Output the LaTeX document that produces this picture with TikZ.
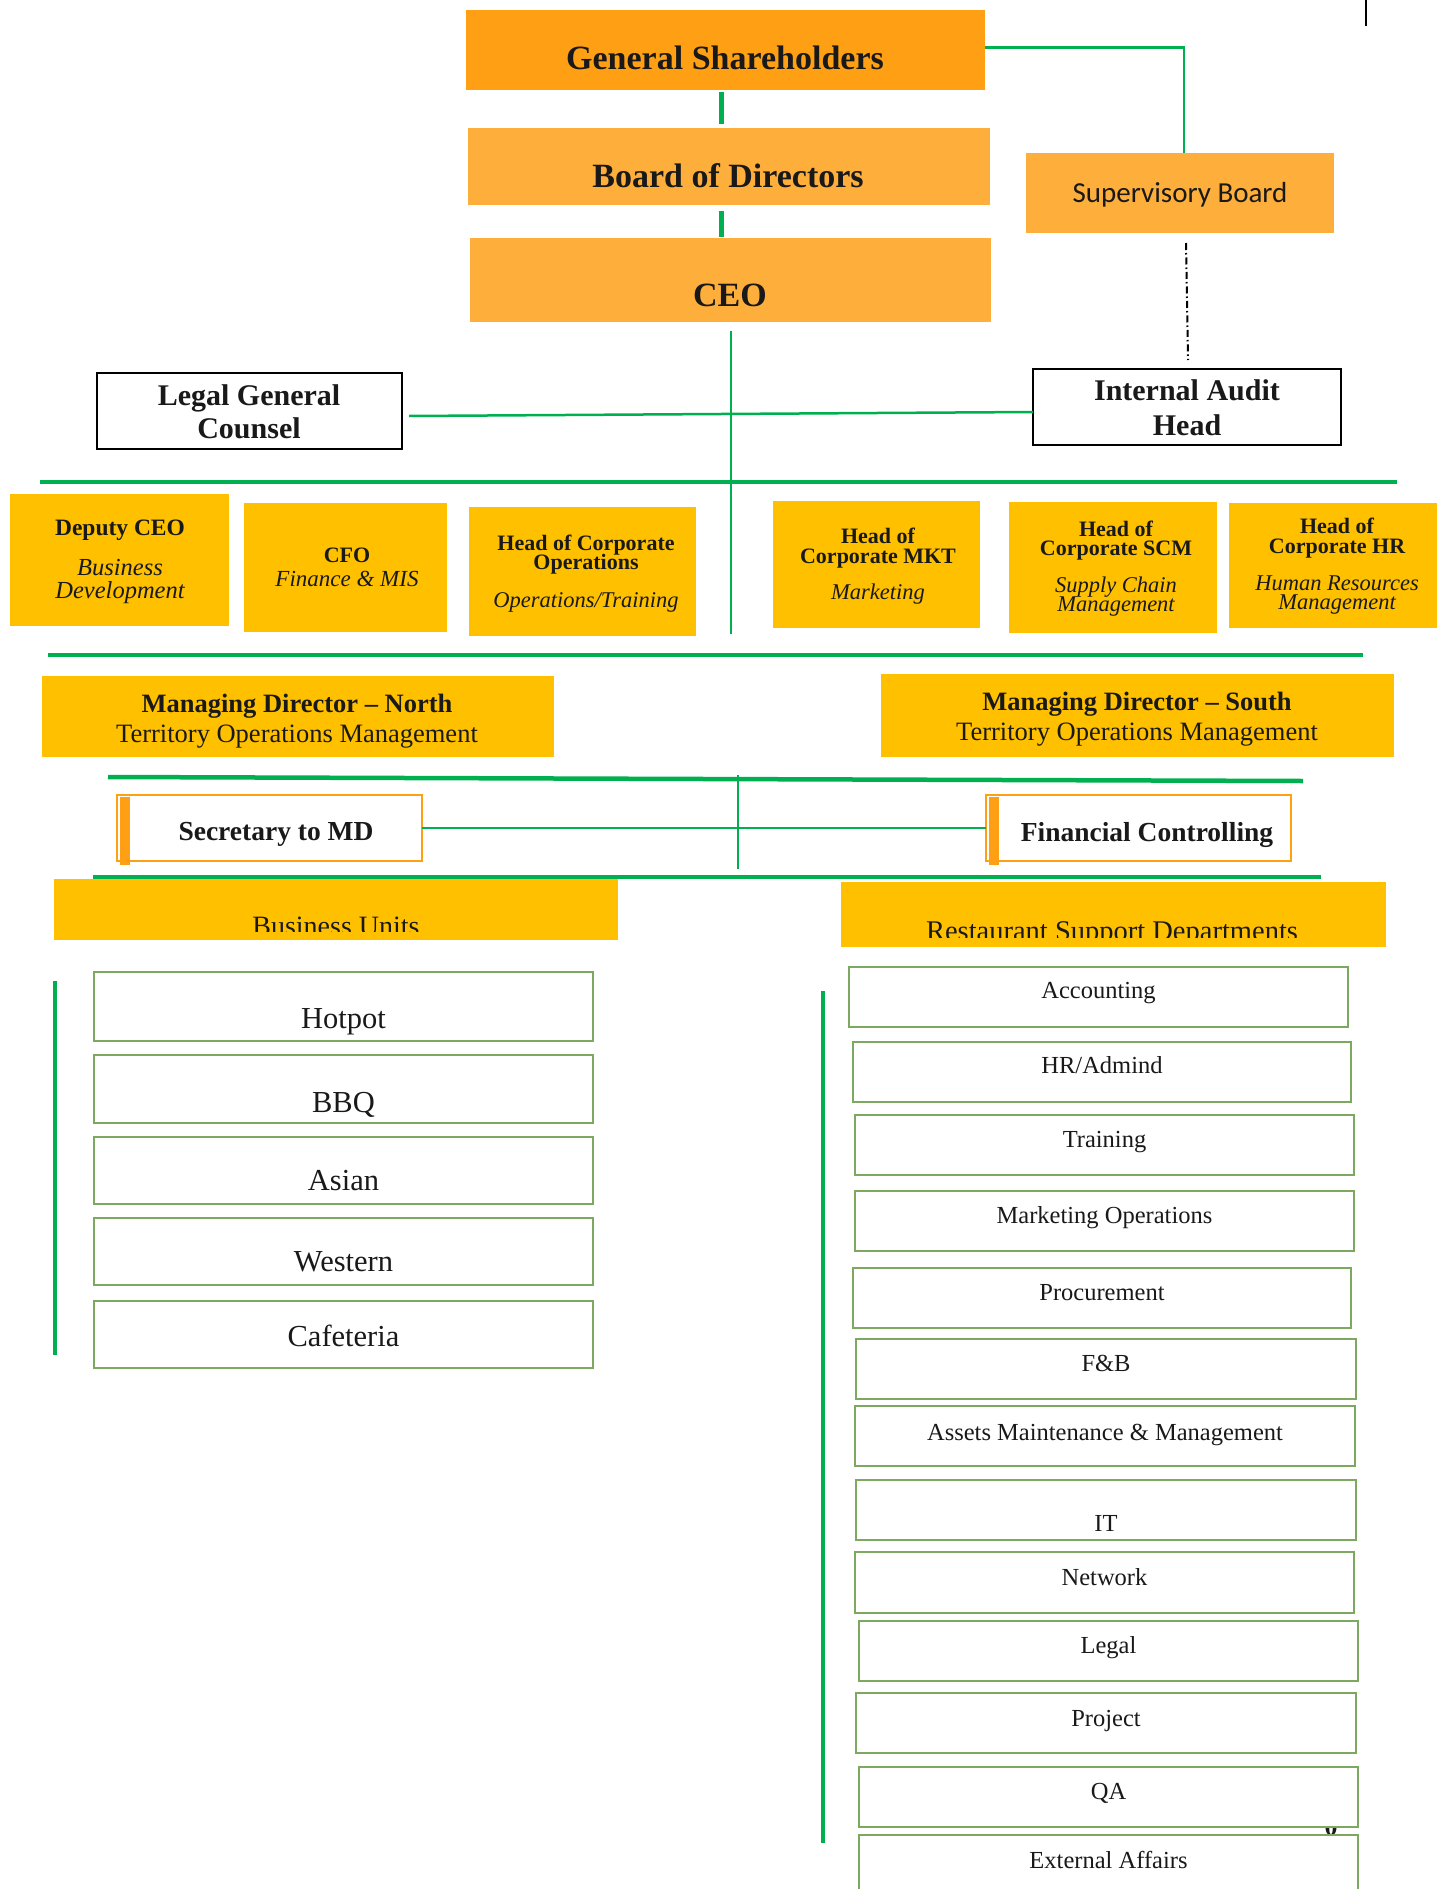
\documentclass[tikz,border=0pt]{standalone}
\usepackage{fontspec}
\setmainfont{Liberation Serif}
\newfontfamily\calibrifont{Carlito}
\usetikzlibrary{fit}
\definecolor{gsorange}{RGB}{255,160,20}
\definecolor{lightorange}{RGB}{253,174,59}
\definecolor{boxyellow}{RGB}{255,192,0}
\definecolor{linegreen}{RGB}{0,176,80}
\definecolor{boxgreen}{RGB}{125,168,95}
\definecolor{secorange}{RGB}{255,160,20}
\definecolor{ink}{RGB}{25,25,25}
\begin{document}
\begin{tikzpicture}[x=1pt,y=-1pt,
  rect/.style={inner sep=0pt, outer sep=0pt},
  darkbox/.style={rect, fill=gsorange},
  lightbox/.style={rect, fill=lightorange},
  yelbox/.style={rect, fill=boxyellow},
  blackbox/.style={rect, draw=black, line width=2.5pt, fill=white},
  secbox/.style={rect, draw=secorange, line width=2pt, fill=white},
  unitbox/.style={rect, draw=boxgreen, line width=1.6pt, fill=white},
  t/.style={inner sep=0pt, outer sep=0pt, anchor=base, text=ink},
  topfont/.style={font=\bfseries\fontsize{34}{40}\selectfont},
  headfont/.style={font=\bfseries\fontsize{30}{34}\selectfont},
  rowb/.style={font=\bfseries\fontsize{22}{24}\selectfont},
  rowi/.style={font=\itshape\fontsize{22.5}{24}\selectfont},
  mdb/.style={font=\bfseries\fontsize{26.5}{30}\selectfont},
  mdr/.style={font=\fontsize{26.5}{30}\selectfont},
  secfont/.style={font=\bfseries\fontsize{27.5}{30}\selectfont},
  unitfont/.style={font=\fontsize{30.5}{32}\selectfont},
  deptfont/.style={font=\fontsize{24.5}{26}\selectfont},
  gthick/.style={draw=linegreen, line width=4.5pt},
  gline/.style={draw=linegreen, line width=2.5pt},
  gvert/.style={draw=linegreen, line width=3.5pt},
  dashdotline/.style={draw=black, line width=2pt, dash pattern=on 7pt off 3pt on 1.5pt off 3pt}
]
\useasboundingbox (0,0) rectangle (1444,1889);

% stray mark top right
\draw[black, line width=2pt] (1366,0) -- (1366,26);

% ---------- top boxes ----------
\node[darkbox, fit={(466,10) (985,90)}] (gs) {};
\node[t, topfont] (gs-t) at (725,70) {General Shareholders};
\node[lightbox, fit={(468,128) (990,205)}] (bod) {};
\node[t, topfont] (bod-t) at (728,188) {Board of Directors};
\node[lightbox, fit={(470,238) (991,322)}] (ceo) {};
\node[t, topfont] (ceo-t) at (730,306) {CEO};
\node[lightbox, fit={(1026,153) (1334,233)}] (sb) {};
\node[t, font=\calibrifont\fontsize{29}{32}\selectfont] (sb-t) at (1180,203) {Supervisory Board};

% connectors top
\draw[draw=linegreen, line width=5pt] ([shift={(-4.5,2)}]gs.south) -- ([shift={(-8,-4)}]bod.north);
\draw[draw=linegreen, line width=5pt] ([shift={(-8,6)}]bod.south) -- ([shift={(-9.5,-1)}]ceo.north);
\coordinate (gsCorner) at (1184,48);
\draw[draw=linegreen, line width=3pt] ([shift={(0,-2)}]gs.east) -- ([xshift=1pt]gsCorner);
\draw[draw=linegreen, line width=2pt] (gsCorner) -- ([xshift=4pt]sb.north);

% CEO down line
\coordinate (ceoEnd) at (731,634);
\draw[gline] ([shift={(0.5,9)}]ceo.south) -- (ceoEnd);

% ---------- legal / internal audit ----------
\node[blackbox, fit={(97,373) (402,449)}] (legal) {};
\node[t, headfont] (legal-t1) at (249,405) {Legal General};
\node[t, headfont] (legal-t2) at (249,438) {Counsel};
\node[blackbox, fit={(1033,369) (1341,445)}] (ia) {};
\node[t, headfont] (ia-t1) at (1187,400) {Internal Audit};
\node[t, headfont] (ia-t2) at (1187,435) {Head};
\draw[gline] ([shift={(7,5)}]legal.east) -- ([shift={(0,5)}]ia.west);

\draw[dashdotline] ([shift={(6,10)}]sb.south) -- ([shift={(1,-9)}]ia.north);

% thick bar 1
\coordinate (bar1L) at (40,482);
\coordinate (bar1R) at (1397,482);
\draw[gthick] (bar1L) -- (bar1R);

% ---------- row of heads ----------
\node[yelbox, fit={(10,494) (229,626)}] (dep) {};
\node[t, font=\bfseries\fontsize{23.5}{26}\selectfont] (dep-t1) at (120,535) {Deputy CEO};
\node[t, font=\itshape\fontsize{24.5}{26}\selectfont] (dep-t2) at (120,575) {Business};
\node[t, font=\itshape\fontsize{24.5}{26}\selectfont] (dep-t3) at (120,598) {Development};

\node[yelbox, fit={(244,503) (447,632)}] (cfo) {};
\node[t, rowb] (cfo-t1) at (347,562) {CFO};
\node[t, font=\itshape\fontsize{23}{26}\selectfont] (cfo-t2) at (347,586) {Finance \& MIS};

\node[yelbox, fit={(469,507) (696,636)}] (ops) {};
\node[t, rowb] (ops-t1) at (586,550) {Head of Corporate};
\node[t, rowb] (ops-t2) at (586,569) {Operations};
\node[t, rowi] (ops-t3) at (586,607) {Operations/Training};

\node[yelbox, fit={(773,501) (980,628)}] (mkth) {};
\node[t, rowb] (mkth-t1) at (878,543) {Head of};
\node[t, rowb] (mkth-t2) at (878,563) {Corporate MKT};
\node[t, rowi] (mkth-t3) at (878,599) {Marketing};

\node[yelbox, fit={(1009,502) (1217,633)}] (scm) {};
\node[t, rowb] (scm-t1) at (1116,536) {Head of};
\node[t, rowb] (scm-t2) at (1116,555) {Corporate SCM};
\node[t, rowi] (scm-t3) at (1116,592) {Supply Chain};
\node[t, rowi] (scm-t4) at (1116,611) {Management};

\node[yelbox, fit={(1229,503) (1437,628)}] (hrh) {};
\node[t, rowb] (hrh-t1) at (1337,533) {Head of};
\node[t, rowb] (hrh-t2) at (1337,553) {Corporate HR};
\node[t, rowi] (hrh-t3) at (1337,590) {Human Resources};
\node[t, rowi] (hrh-t4) at (1337,609) {Management};

% thick bar 2
\coordinate (bar2L) at (48,655);
\coordinate (bar2R) at (1363,655);
\draw[gthick] (bar2L) -- (bar2R);

% ---------- managing directors ----------
\node[yelbox, fit={(42,676) (554,757)}] (mdn) {};
\node[t, mdb] (mdn-t1) at (297,712) {Managing Director -- North};
\node[t, mdr] (mdn-t2) at (297,742) {Territory Operations Management};
\node[yelbox, fit={(881,674) (1394,757)}] (mds) {};
\node[t, mdb] (mds-t1) at (1137,710) {Managing Director -- South};
\node[t, mdr] (mds-t2) at (1137,740) {Territory Operations Management};

\coordinate (bar3L) at (108,777);
\coordinate (bar3R) at (1303,781);
\draw[gthick] (bar3L) -- (bar3R);
\coordinate (vmidT) at (738,775);
\coordinate (vmidB) at (738,869);
\draw[gline] (vmidT) -- (vmidB);

% ---------- secretary / financial controlling ----------
\node[secbox, fit={(117,795) (422,861)}] (sec) {};
\fill[secorange] (120,797) rectangle (130,865);
\node[t, secfont] (sec-t) at (276,840) {Secretary to MD};
\node[secbox, fit={(986,795) (1291,861)}] (fc) {};
\fill[secorange] (989,797) rectangle (999,865);
\node[t, secfont] (fc-t) at (1147,841) {Financial Controlling};
\draw[gline] (sec.east) -- (fc.west);

\coordinate (bar4L) at (93,877);
\coordinate (bar4R) at (1321,877);
\draw[gthick] (bar4L) -- (bar4R);

% ---------- group headers (text clipped) ----------
\node[yelbox, fit={(54,879) (618,940)}] (bu) {};
\begin{scope}
  \clip (54,879) rectangle (618,931);
  \node[t, font=\fontsize{28}{30}\selectfont] (bu-t) at (336,935.5) {Business Units};
\end{scope}
\node[yelbox, fit={(841,882) (1386,947)}] (rsd) {};
\begin{scope}
  \clip (841,882) rectangle (1386,937);
  \node[t, font=\fontsize{28.5}{30}\selectfont] (rsd-t) at (1112,940) {Restaurant Support Departments};
\end{scope}

% ---------- business units ----------
\coordinate (buLineT) at (55,981);
\coordinate (buLineB) at (55,1355);
\draw[gvert] (buLineT) -- (buLineB);

\node[unitbox, fit={(94,972) (593,1041)}] (hot) {};
\node[t, unitfont] (hot-t) at (343.5,1028) {Hotpot};
\node[unitbox, fit={(94,1055) (593,1123)}] (bbq) {};
\node[t, unitfont] (bbq-t) at (343.5,1112) {BBQ};
\node[unitbox, fit={(94,1137) (593,1204)}] (asi) {};
\node[t, unitfont] (asi-t) at (343.5,1190) {Asian};
\node[unitbox, fit={(94,1218) (593,1285)}] (wes) {};
\node[t, unitfont] (wes-t) at (343.5,1271) {Western};
\node[unitbox, fit={(94,1301) (593,1368)}] (caf) {};
\node[t, unitfont] (caf-t) at (343.5,1346) {Cafeteria};

% ---------- support departments ----------
\coordinate (rsLineT) at (823,991);
\coordinate (rsLineB) at (823,1843);
\draw[gvert] (rsLineT) -- (rsLineB);

\node[t, font=\bfseries\fontsize{26}{26}\selectfont] (pg) at (1331,1835) {0};

\node[unitbox, fit={(849,967) (1348,1027)}] (acc) {};
\node[t, deptfont] (acc-t) at (1098.5,998) {Accounting};
\node[unitbox, fit={(853,1042) (1351,1102)}] (hra) {};
\node[t, deptfont] (hra-t) at (1102,1073) {HR/Admind};
\node[unitbox, fit={(855,1115) (1354,1175)}] (trn) {};
\node[t, deptfont] (trn-t) at (1104.5,1147) {Training};
\node[unitbox, fit={(855,1191) (1354,1251)}] (mko) {};
\node[t, deptfont] (mko-t) at (1104.5,1223) {Marketing Operations};
\node[unitbox, fit={(853,1268) (1351,1328)}] (prc) {};
\node[t, deptfont] (prc-t) at (1102,1300) {Procurement};
\node[unitbox, fit={(856,1339) (1356,1399)}] (fb) {};
\node[t, deptfont] (fb-t) at (1106,1371) {F\&B};
\node[unitbox, fit={(855,1406) (1355,1466)}] (ast) {};
\node[t, deptfont] (ast-t) at (1105,1440) {Assets Maintenance \& Management};
\node[unitbox, fit={(856,1480) (1356,1540)}] (it) {};
\node[t, deptfont] (it-t) at (1106,1531) {IT};
\node[unitbox, fit={(855,1552) (1354,1613)}] (net) {};
\node[t, deptfont] (net-t) at (1104.5,1585) {Network};
\node[unitbox, fit={(859,1621) (1358,1681)}] (lgl) {};
\node[t, deptfont] (lgl-t) at (1108.5,1653) {Legal};
\node[unitbox, fit={(856,1693) (1356,1753)}] (prj) {};
\node[t, deptfont] (prj-t) at (1106,1726) {Project};
\node[unitbox, fit={(859,1767) (1358,1827)}] (qa) {};
\node[t, deptfont] (qa-t) at (1108.5,1799) {QA};
\node[unitbox, fit={(859,1835) (1358,1895)}] (ext) {};
\node[t, deptfont] (ext-t) at (1108.5,1868) {External Affairs};
\end{tikzpicture}
\end{document}
